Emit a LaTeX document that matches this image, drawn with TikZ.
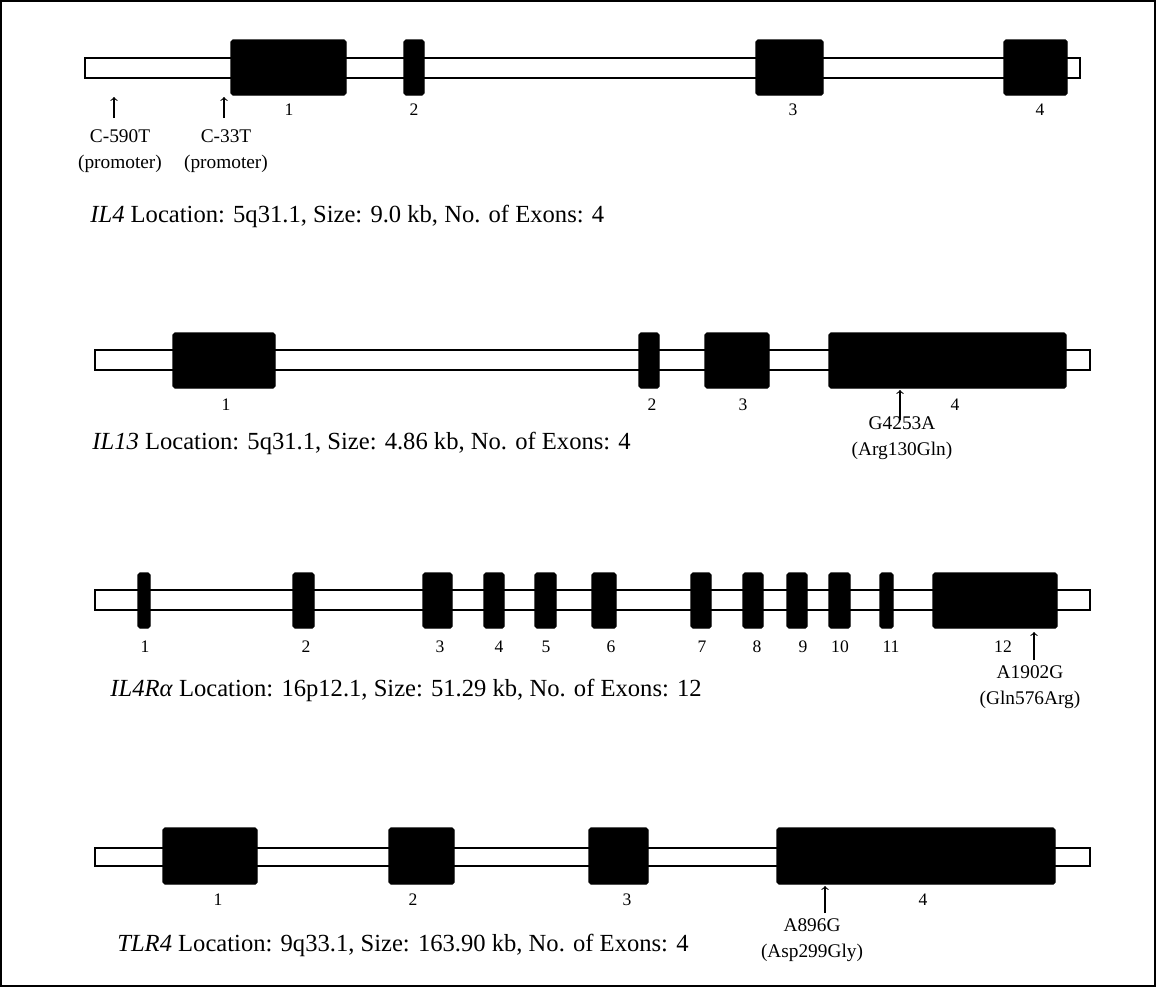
\documentclass[tikz,border=0pt]{standalone}
\usepackage{fontspec}
\setmainfont{Liberation Serif}
\usepackage{tikz}
\usetikzlibrary{positioning}

\begin{document}
\begin{tikzpicture}[
                        x=0.02cm,
                        y=-0.02cm,
                        >=to,
                        semithick
                    ]
                    \tikzset{
                        gene/.style={draw=black,fill=white,line width=1.6pt},
                        exon/.style={draw=black,fill=black,rounded corners=1pt},
                        num/.style={font=\fontsize{10}{11}\selectfont},
                        snp/.style={font=\fontsize{11}{15}\selectfont,align=center,anchor=north},
                        title/.style={font=\fontsize{14}{16}\selectfont,anchor=west}
                    }

                    \useasboundingbox (0,0) rectangle (1156,987);
                    \draw[line width=1pt] (1,1) rectangle (1155,986);

                    % IL4
                    \draw[gene] (85,58) rectangle (1080,78);
                    \foreach \a/\b in {231/346,404/424,756/823,1004/1067}
                        \draw[exon] (\a,40) rectangle (\b,95);
                    \foreach \x/\n in {289/1,414/2,793/3,1040/4}
                        \node[num] at (\x,110) {\n};
                    \node[snp] (s1) at (120,123) {C-590T\\(promoter)};
                    \node[snp] (s2) at (226,123) {C-33T\\(promoter)};
                    \draw[->] (114,118) -- (114,97);
                    \draw[->] (224,118) -- (224,97);
                    \node[title] (t1) at (84,216) {\textit{IL4} Location: 5q31.1, Size: 9.0 kb, No. of Exons: 4};

                    % IL13
                    \draw[gene] (95,350) rectangle (1090,370);
                    \foreach \a/\b in {173/275,639/659,705/769,829/1066}
                        \draw[exon] (\a,333) rectangle (\b,388);
                    \foreach \x/\n in {226/1,652/2,743/3,955/4}
                        \node[num] at (\x,405) {\n};
                    \node[snp] (s3) at (902,410) {G4253A\\(Arg130Gln)};
                    \draw[->] (900,420) -- (900,390);
                    \node[title] (t2) at (86,443) {\textit{IL13} Location: 5q31.1, Size: 4.86 kb, No. of Exons: 4};

                    % IL4Ra
                    \draw[gene] (95,590) rectangle (1090,610);
                    \foreach \a/\b in {138/150,293/314,423/452,484/504,535/556,592/616,691/711,743/763,787/807,829/850,880/893,933/1057}
                        \draw[exon] (\a,573) rectangle (\b,628);
                    \foreach \x/\n in {145/1,306/2,440/3,499/4,546/5,611/6,702/7,757/8,803/9,840/10,891/11,1003/12}
                        \node[num] at (\x,647) {\n};
                    \node[snp] (s4) at (1030,659) {A1902G\\(Gln576Arg)};
                    \draw[->] (1034,660) -- (1034,632);
                    \node[title] (t3) at (104,690) {\textit{IL4Rα} Location: 16p12.1, Size: 51.29 kb, No. of Exons: 12};

                    % TLR4
                    \draw[gene] (95,848) rectangle (1090,866);
                    \foreach \a/\b in {163/257,389/454,589/648,777/1055}
                        \draw[exon] (\a,828) rectangle (\b,884);
                    \foreach \x/\n in {218/1,413/2,627/3,923/4}
                        \node[num] at (\x,900) {\n};
                    \node[snp] (s5) at (812,912) {A896G\\(Asp299Gly)};
                    \draw[->] (825,913) -- (825,886);
                    \node[title] (t4) at (111,945) {\textit{TLR4} Location: 9q33.1, Size: 163.90 kb, No. of Exons: 4};
\end{tikzpicture}
\end{document}
